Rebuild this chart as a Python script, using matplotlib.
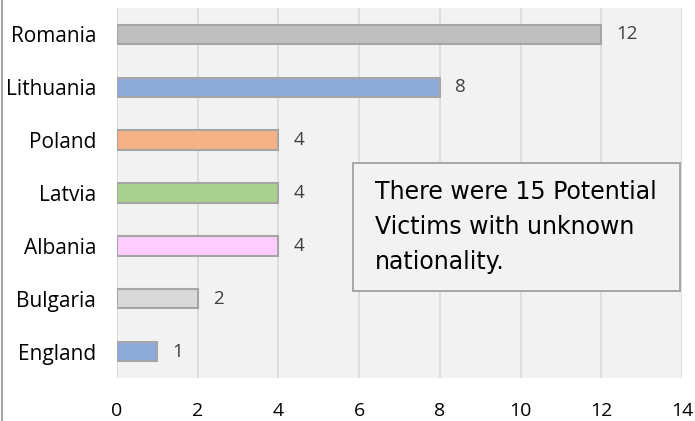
import matplotlib.pyplot as plt
from matplotlib.lines import Line2D
from matplotlib.patches import Rectangle

countries = ["Romania", "Lithuania", "Poland", "Latvia", "Albania", "Bulgaria", "England"]
victims = [12, 8, 4, 4, 4, 2, 1]
bar_colors = ["#bfbfbf", "#8eaadb", "#f4b183", "#a9d18e", "#ffccff", "#d9d9d9", "#8eaadb"]
x_ticks = [0, 2, 4, 6, 8, 10, 12, 14]
note = "There were 15 Potential\nVictims with unknown\nnationality."

fig = plt.figure(figsize=(6.95, 4.21), dpi=100)
ax = fig.add_axes([117 / 695, 43 / 421, 565 / 695, 370 / 421])
ax.set_facecolor("#f2f2f2")

ypos = list(range(len(countries)))[::-1]
ax.barh(ypos, victims, height=0.37, color=bar_colors, edgecolor="#a5a5a5",
        linewidth=1.5, zorder=3)

for y, v in zip(ypos, victims):
    ax.text(v + 0.38, y, str(v), va="center", ha="left", fontsize=13.5,
            color="#404040", family="Open Sans", zorder=4)

ax.set_xlim(0, 14)
ax.set_ylim(-0.5, 6.5)
ax.set_xticks(x_ticks)
ax.set_xticklabels([str(t) for t in x_ticks], fontsize=14, family="Open Sans")
ax.set_yticks(ypos)
ax.set_yticklabels(countries, fontsize=15, family="Open Sans")
ax.tick_params(length=0)
ax.tick_params(axis="y", pad=15)
ax.tick_params(axis="x", pad=17)
ax.grid(axis="x", color="#d9d9d9", linewidth=1.2, zorder=0)
for s in ax.spines.values():
    s.set_visible(False)

# note box
ax.add_patch(Rectangle((5.85, 1.15), 8.1, 2.42, facecolor="#f2f2f2",
                       edgecolor="#a6a6a6", linewidth=1.4, zorder=5, clip_on=False))
ax.text(6.39, 3.24, note, fontsize=17, va="top", ha="left",
        family="DejaVu Sans", linespacing=1.58, zorder=6)

fig.add_artist(Line2D([2 / 695, 2 / 695], [0, 1], color="#a6a6a6", linewidth=1.5))

fig.savefig("out.png", dpi=100)
